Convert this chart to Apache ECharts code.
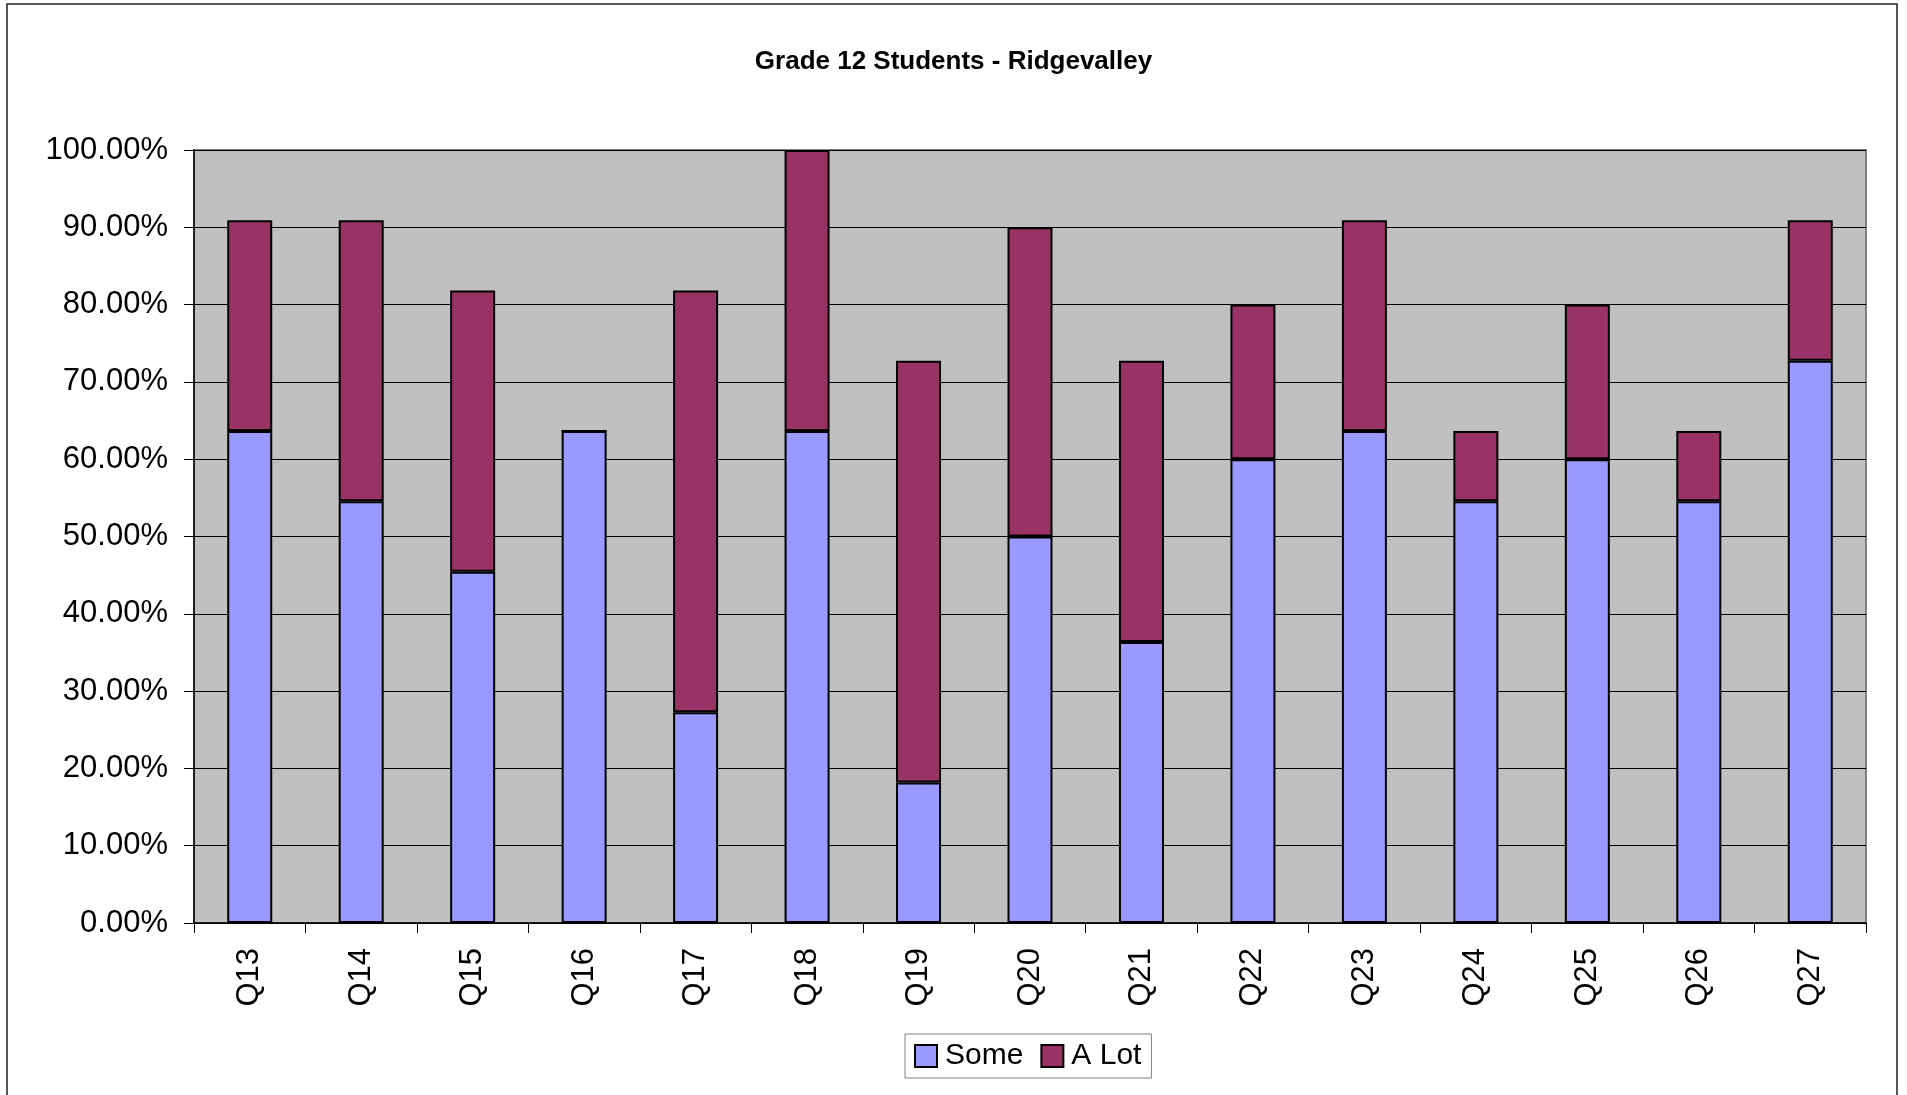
<!DOCTYPE html>
<html>
<head>
<meta charset="utf-8">
<script src="https://cdn.jsdelivr.net/npm/echarts@6/dist/echarts.min.js"></script>
<style>
html,body{margin:0;padding:0;background:#fff;}
#c{width:1907px;height:1095px;}
</style>
</head>
<body>
<div id="c"></div>
<script>
const categories = ['Q13','Q14','Q15','Q16','Q17','Q18','Q19','Q20','Q21','Q22','Q23','Q24','Q25','Q26','Q27'];
const someValues = [63.64, 54.55, 45.45, 63.64, 27.27, 63.64, 18.18, 50.00, 36.36, 60.00, 63.64, 54.55, 60.00, 54.55, 72.73];
const aLotValues = [27.27, 36.36, 36.36, 0.00, 54.55, 36.36, 54.55, 40.00, 36.36, 20.00, 27.27, 9.09, 20.00, 9.09, 18.18];
const seriesNames = ['Some', 'A Lot'];
const titleText = 'Grade 12 Students - Ridgevalley';

const FONT = "'Liberation Sans', Arial, sans-serif";
const chart = echarts.init(document.getElementById('c'), null, {renderer: 'canvas'});
chart.setOption({
  backgroundColor: '#ffffff',
  animation: false,
  title: {
    text: titleText,
    left: 'center',
    top: 44,
    textStyle: {fontFamily: FONT, fontSize: 26, fontWeight: 'bold', color: '#000'}
  },
  graphic: [{
    type: 'rect',
    shape: {x: 7, y: 4, width: 1890, height: 1100},
    style: {fill: 'none', stroke: '#222', lineWidth: 1.5},
    silent: true
  }],
  legend: {
    left: 905,
    top: 1034,
    padding: [7, 10, 7, 9],
    itemGap: 17,
    itemWidth: 22,
    itemHeight: 22,
    borderColor: '#808080',
    borderWidth: 1,
    backgroundColor: '#fff',
    icon: 'rect',
    itemStyle: {borderColor: '#000', borderWidth: 2},
    textStyle: {fontFamily: FONT, fontSize: 30, color: '#000', padding: [0, 0, 0, 3]},
    data: seriesNames
  },
  grid: {
    left: 194, right: 41, top: 150, bottom: 172,
    show: true,
    backgroundColor: '#C0C0C0',
    borderColor: '#808080',
    borderWidth: 2
  },
  xAxis: {
    type: 'category',
    data: categories,
    boundaryGap: true,
    axisLine: {show: true, lineStyle: {color: '#000', width: 1.5}},
    axisTick: {show: true, length: 10, alignWithLabel: false, lineStyle: {color: '#000', width: 1}},
    axisLabel: {rotate: 90, margin: 25, fontFamily: FONT, fontSize: 31, color: '#000', interval: 0},
    splitLine: {show: false}
  },
  yAxis: {
    type: 'value',
    min: 0, max: 100, interval: 10,
    axisLine: {show: true, lineStyle: {color: '#000', width: 1.5}},
    axisTick: {show: true, length: 10, lineStyle: {color: '#000', width: 1}},
    axisLabel: {margin: 26, fontFamily: FONT, fontSize: 31, color: '#000',
      formatter: v => v.toFixed(2) + '%'},
    splitLine: {show: true, lineStyle: {color: '#000', width: 1}}
  },
  series: [
    {
      name: seriesNames[0], type: 'bar', stack: 'total', data: someValues,
      barWidth: 45,
      itemStyle: {color: '#9999FF', borderColor: '#000', borderWidth: 2}
    },
    {
      name: seriesNames[1], type: 'bar', stack: 'total', data: aLotValues,
      barWidth: 45,
      itemStyle: {color: '#993366', borderColor: '#000', borderWidth: 2}
    }
  ]
});
</script>
</body>
</html>
